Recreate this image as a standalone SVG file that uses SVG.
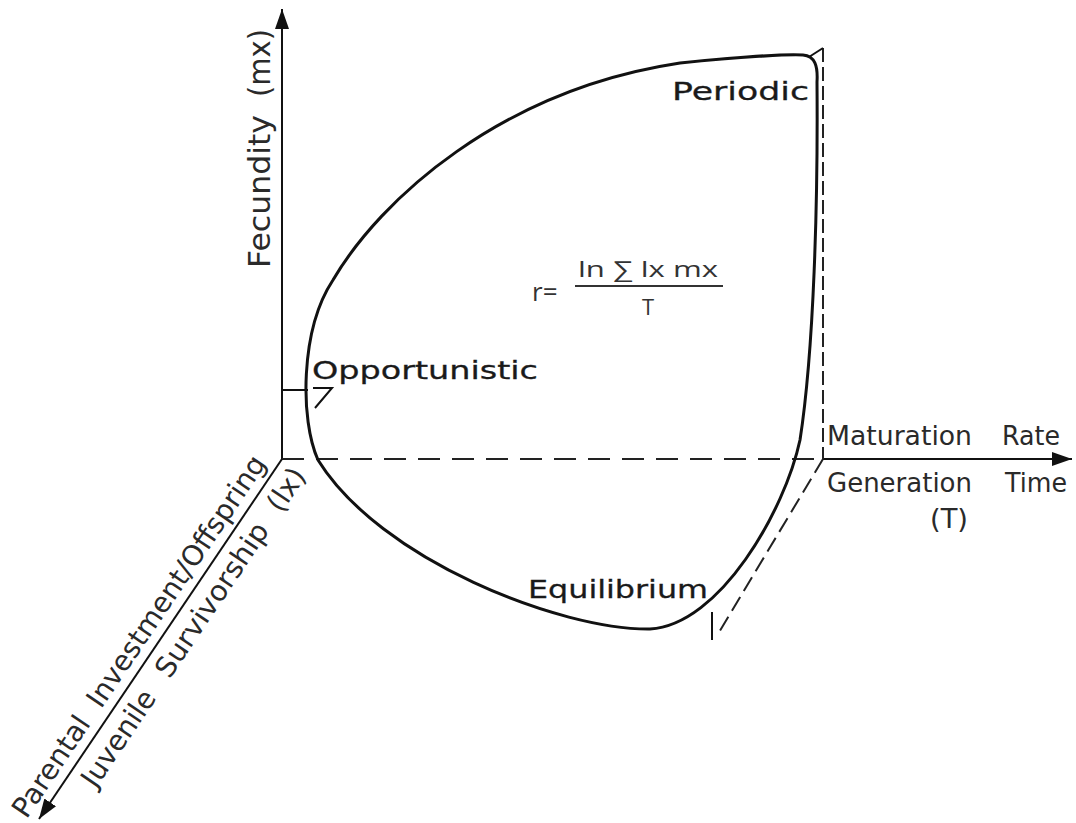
<svg xmlns="http://www.w3.org/2000/svg" width="1076" height="823" viewBox="0 0 1076 823">
<style>
.axis{stroke:#111;stroke-width:2;fill:none}
.curve{stroke:#111;stroke-width:3;fill:none;stroke-linejoin:round}
.dash{stroke:#222;stroke-width:2;fill:none}
.lbl{font-family:"DejaVu Sans",sans-serif;font-size:25px;fill:#1a1a1a;stroke:#1a1a1a;stroke-width:0.3}
.ax{font-family:"DejaVu Sans",sans-serif;font-size:26px;fill:#2a2a2a}
.fec{font-family:"DejaVu Sans",sans-serif;font-size:31px;fill:#2a2a2a}
.dg{font-family:"DejaVu Sans",sans-serif;font-size:28px;fill:#2a2a2a}
.fx{font-family:"Open Sans","DejaVu Sans",sans-serif;font-size:22px;fill:#333}
.fr{font-family:"Open Sans","DejaVu Sans",sans-serif;font-size:26px;fill:#333}
</style>
<defs>
<marker id="arr" viewBox="0 0 20 14" refX="20" refY="7" markerWidth="20" markerHeight="14" orient="auto" markerUnits="userSpaceOnUse">
<path d="M0,0 L20,7 L0,14 z" fill="#111"/>
</marker>
</defs>
<rect width="1076" height="823" fill="#fff"/>
<g id="connectors">
<path class="axis" d="M282 459 L282 9" marker-end="url(#arr)"/>
<path class="dash" d="M282 459 L823 459" stroke-dasharray="22 12"/>
<path class="axis" d="M823 459 L1072 459" marker-end="url(#arr)"/>
<path class="axis" d="M282 459 L39 819" marker-end="url(#arr)"/>
<path class="axis" d="M282 390 L308 390"/>
<path class="axis" d="M313 388 L332 388 L315 408"/>
<path class="dash" d="M823 48 L823 459" stroke-dasharray="14 5"/>
<path class="axis" d="M809 57 L823 48"/>
<path class="dash" d="M823 459 L718 634" stroke-dasharray="16 7"/>
<path class="axis" d="M712 612 L712 640"/>
</g>
<g id="curve">
<path class="curve" d="M318 460 C300 420 300 330 333 280 C380 200 500 90 680 63 C740 57 790 54 803 55 C815 56 818 66 817 82 C818 200 814 350 800 440 C785 510 720 625 650 629 C560 630 380 560 318 460 Z"/>
</g>
<g id="node-periodic"><text class="lbl" x="672" y="100" textLength="137" lengthAdjust="spacingAndGlyphs">Periodic</text></g>
<g id="node-opportunistic"><text class="lbl" x="312" y="379" textLength="226" lengthAdjust="spacingAndGlyphs">Opportunistic</text></g>
<g id="node-equilibrium"><text class="lbl" x="528" y="598" textLength="180" lengthAdjust="spacingAndGlyphs">Equilibrium</text></g>
<g id="formula">
<text class="fr" x="532" y="301">r=</text>
<text class="fx" x="578" y="277" textLength="140" lengthAdjust="spacingAndGlyphs">ln ∑ lx mx</text>
<line x1="575" y1="286" x2="723" y2="286" stroke="#333" stroke-width="2"/>
<text class="fx" x="642" y="315">T</text>
</g>
<g id="axis-fecundity">
<text class="fec" transform="translate(270 268) rotate(-90)" textLength="153" lengthAdjust="spacingAndGlyphs">Fecundity</text>
<text class="fec" transform="translate(270 97) rotate(-90)" textLength="68" lengthAdjust="spacingAndGlyphs">(mx)</text>
</g>
<g id="axis-maturation">
<text class="ax" x="827" y="445" textLength="145" lengthAdjust="spacingAndGlyphs">Maturation</text>
<text class="ax" x="1002" y="445" textLength="58" lengthAdjust="spacingAndGlyphs">Rate</text>
<text class="ax" x="827" y="492" textLength="145" lengthAdjust="spacingAndGlyphs">Generation</text>
<text class="ax" x="1005" y="492" textLength="62" lengthAdjust="spacingAndGlyphs">Time</text>
<text class="ax" x="930" y="528" textLength="38" lengthAdjust="spacingAndGlyphs">(T)</text>
</g>
<g id="axis-diagonal">
<text class="dg" transform="translate(26.6 819.8) rotate(-56)" textLength="116" lengthAdjust="spacingAndGlyphs">Parental</text>
<text class="dg" transform="translate(101 709.6) rotate(-56)" textLength="297" lengthAdjust="spacingAndGlyphs">Investment/Offspring</text>
<text class="dg" transform="translate(95.6 789.2) rotate(-56)" textLength="110" lengthAdjust="spacingAndGlyphs">Juvenile</text>
<text class="dg" transform="translate(169.4 679.7) rotate(-56)" textLength="180" lengthAdjust="spacingAndGlyphs">Survivorship</text>
<text class="dg" transform="translate(281.2 513.9) rotate(-56)" textLength="46" lengthAdjust="spacingAndGlyphs">(lx)</text>
</g>
</svg>
